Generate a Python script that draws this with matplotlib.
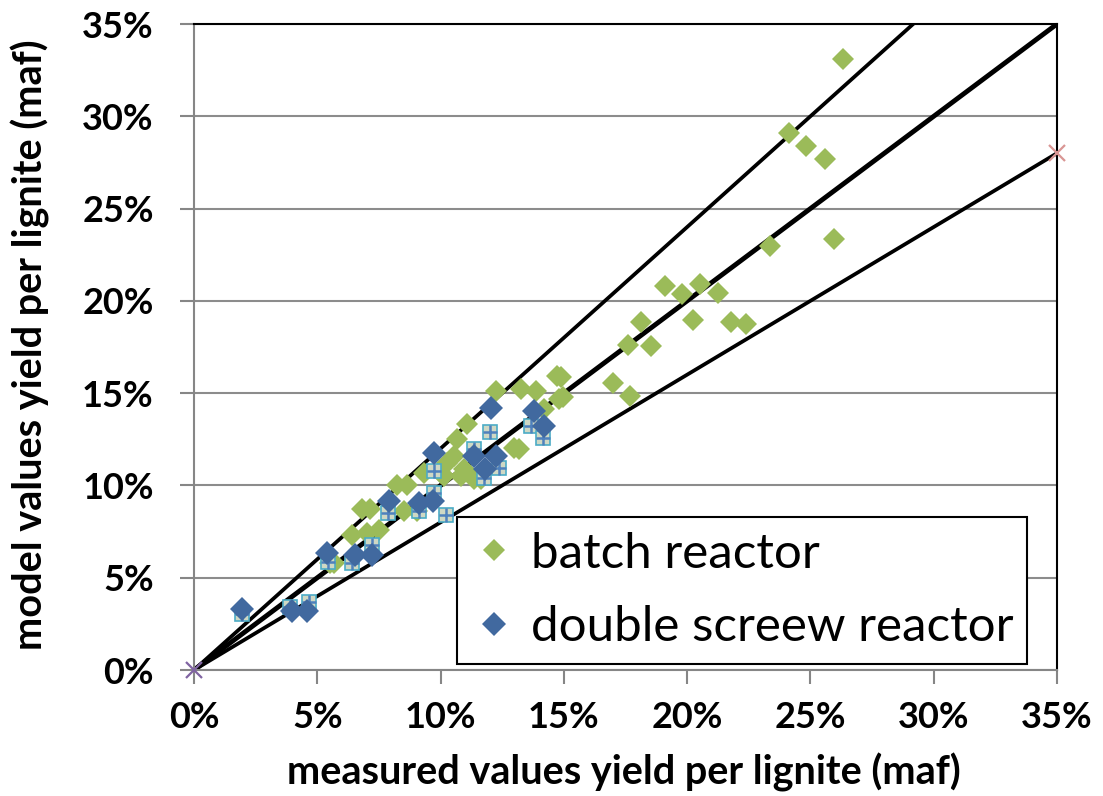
import matplotlib.pyplot as plt
from matplotlib.ticker import FuncFormatter

# measured (x) and model (y) yields, in percent
batch_x = [26.31, 24.12, 24.81, 25.58, 25.96, 23.37, 19.12, 19.78, 20.53, 21.25,
           18.14, 17.61, 18.54, 20.22, 21.76, 22.37, 16.98, 17.70, 14.88, 14.95,
           14.74, 14.80, 14.20, 12.24, 11.08, 10.67, 13.25, 13.86, 12.98, 13.18,
           9.32, 10.27, 10.54, 10.81, 10.13, 11.63, 11.35, 8.24, 8.64, 8.50,
           9.05, 6.81, 7.15, 6.41, 7.02, 7.49, 5.53, 5.66, 10.95, 10.00]
batch_y = [33.11, 29.11, 28.37, 27.66, 23.37, 22.95, 20.78, 20.38, 20.92, 20.42,
           18.88, 17.61, 17.57, 18.97, 18.84, 18.75, 15.53, 14.85, 15.87, 14.78,
           15.94, 14.67, 14.13, 15.13, 13.32, 12.50, 15.22, 15.13, 12.05, 11.96,
           10.69, 11.23, 11.59, 10.51, 10.51, 10.33, 10.33, 10.05, 10.05, 8.60,
           8.60, 8.70, 8.70, 7.34, 7.43, 7.61, 5.80, 5.80, 10.87, 10.70]

screw_x = [1.96, 3.97, 4.58, 5.39, 6.52, 7.22, 7.90, 9.12, 9.70, 9.73,
           11.35, 12.24, 11.80, 12.03, 13.78, 14.19]
screw_y = [3.32, 3.22, 3.22, 6.34, 6.25, 6.25, 9.15, 9.06, 9.15, 11.78,
           11.59, 11.59, 10.87, 14.22, 14.05, 13.21]

# hidden third series (square markers with a cross)
model_x = [1.94, 3.90, 4.65, 5.42, 6.41, 7.22, 7.86, 9.12, 9.73, 10.20,
           9.73, 11.35, 11.76, 12.37, 12.00, 13.66, 14.17]
model_y = [3.04, 3.44, 3.71, 5.83, 5.80, 6.79, 8.51, 8.60, 9.60, 8.42,
           10.78, 11.96, 10.42, 10.96, 12.90, 13.22, 12.59]

# reference lines +20 %, 1:1, -20 %
line_x = [0, 35]
upper_y = [0, 42]
middle_y = [0, 35]
lower_y = [0, 28]

ticks = [0, 5, 10, 15, 20, 25, 30, 35]

fig = plt.figure(figsize=(11.03, 7.96), dpi=100)
ax = fig.add_axes([194 / 1103, 1 - 670 / 796, 863 / 1103, 646 / 796])

ax.plot(line_x, upper_y, color='black', lw=2.7, zorder=2)
ax.plot(line_x, middle_y, color='black', lw=3.5, zorder=2)
ax.plot(line_x, lower_y, color='black', lw=2.7, zorder=2)
ax.plot([35], [28], 'x', color='#d99694', ms=11, mew=1.6, clip_on=False, zorder=3)
ax.plot([0], [0], 'x', color='#8064a2', ms=11, mew=1.6, clip_on=False, zorder=3)

ax.plot(batch_x, batch_y, 'D', color='#9bbb59', ms=11.5, mew=0, ls='none',
        label='batch reactor', zorder=4)
ax.plot(model_x, model_y, 's', mfc='#cfd8c4', mec='#4bacc6', ms=10.5, mew=1.2,
        ls='none', zorder=5)
ax.plot(model_x, model_y, '+', color='#4f81bd', ms=10, mew=1.8, ls='none', zorder=5)
ax.plot(screw_x, screw_y, 'D', color='#41699f', ms=12.5, mew=0, ls='none',
        label='double screew reactor', zorder=6)

ax.set_xlim(0, 35)
ax.set_ylim(0, 35)
ax.set_xticks(ticks)
ax.set_yticks(ticks)
pct = FuncFormatter(lambda v, p: f'{v:.0f}%')
ax.xaxis.set_major_formatter(pct)
ax.yaxis.set_major_formatter(pct)

for lab in ax.get_xticklabels() + ax.get_yticklabels():
    lab.set_fontfamily('Lato')
    lab.set_fontweight('bold')
    lab.set_fontsize(26)
ax.tick_params(axis='both', direction='out', length=10, width=1.5, color='#868686')
ax.tick_params(axis='x', pad=12)
ax.tick_params(axis='y', pad=19)

ax.yaxis.grid(True, color='#8c8c8c', lw=1.5)
ax.set_axisbelow(True)
for s in ['left', 'bottom']:
    ax.spines[s].set_color('#868686')
    ax.spines[s].set_linewidth(1.5)
for s in ['top', 'right']:
    ax.spines[s].set_color('black')
    ax.spines[s].set_linewidth(1.5)

label_font = dict(family='Lato', weight='bold', size=28.5)
ax.set_xlabel('measured values yield per lignite (maf)', fontdict=label_font, va='center')
ax.xaxis.set_label_coords(0.498, -0.158)
ax.set_ylabel('model values yield per lignite (maf)', fontdict=label_font, va='center')
ax.yaxis.set_label_coords(-0.19, 0.503)

leg = ax.legend(loc='lower left', bbox_to_anchor=(0.3048, 0.0093, 0.6604, 0.2307),
                mode='expand', borderaxespad=0, fancybox=False, framealpha=1,
                edgecolor='black', prop=dict(family='Lato', size=35.5),
                handletextpad=0.3, handlelength=0.9, labelspacing=0.6, borderpad=0.3)
leg.get_frame().set_linewidth(1.5)
leg.set_zorder(10)

fig.savefig('out.png', dpi=100)
